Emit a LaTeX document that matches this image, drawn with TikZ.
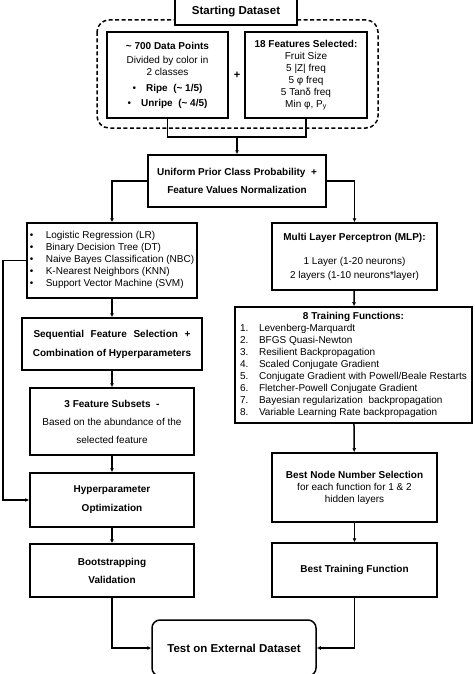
\documentclass[tikz,border=0pt]{standalone}
\usepackage{fontspec}
\setmainfont{Liberation Sans}
\usetikzlibrary{arrows.meta}
\tikzset{
  box/.style={draw, line width=1.5pt, fill=white, align=center, inner sep=2pt},
  link/.style={line width=1.5pt},
  arr/.style={line width=1.5pt, -{Latex[length=4pt,width=4pt]}},
}

\begin{document}
\begin{tikzpicture}[x=1pt,y=-1pt]
    \useasboundingbox (0,0) rectangle (474,674);
    \draw[link,dash pattern=on 4pt off 2.5pt,rounded corners=12pt] (97,20) rectangle (378,128);
    \node[box,minimum width=122pt,minimum height=27pt,font=\fontsize{11.5}{14}\selectfont\bfseries] (start) at (236,11.5) {Starting Dataset};
    \node[box,minimum width=121pt,minimum height=86pt] (pts) at (167.5,75)
      {\textbf{\textasciitilde\ 700 Data Points}\\[2pt]
       Divided by color in\\ 2 classes\\[4pt]
       \textbullet\hspace{10pt}\textbf{Ripe\ \ (\textasciitilde\ 1/5)}\\[3pt]
       \textbullet\hspace{10pt}\textbf{Unripe\ \ (\textasciitilde\ 4/5)}};
    \node[box,minimum width=122pt,minimum height=86pt] (feat) at (306,75)
      {\textbf{18 Features Selected:}\\ Fruit Size\\ 5 |Z| freq\\ 5 φ freq\\
       5 Tanδ freq\\ Min φ, P\textsubscript{y}};
    \node[font=\fontsize{11}{13}\selectfont\bfseries] (plus) at (237,75) {+};
    \coordinate (join) at (237,137);
    \node[box,minimum width=178pt,minimum height=52pt,font=\bfseries] (uni) at (237,181)
      {Uniform Prior Class Probability\ \ +\\[6pt] Feature Values Normalization};
    % left branch
    \node[box,minimum width=170pt,minimum height=75pt] (clf) at (112,260.5)
      {\begin{tabular}{@{}p{16pt}@{}l@{}}
         \textbullet & Logistic Regression (LR)\\
         \textbullet & Binary Decision Tree (DT)\\
         \textbullet & Naive Bayes Classification (NBC)\\
         \textbullet & K-Nearest Neighbors (KNN)\\
         \textbullet & Support Vector Machine (SVM)
       \end{tabular}};
    \node[box,minimum width=180pt,minimum height=52pt,font=\bfseries] (seq) at (112,344)
      {\makebox[157pt][s]{Sequential Feature Selection +}\\[7pt]
       Combination of Hyperparameters};
    \node[box,minimum width=164pt,minimum height=67pt] (sub) at (112,421.5)
      {\textbf{3\ Feature Subsets\ \ -}\\[6pt] Based on the abundance of the\\[6pt] selected feature};
    \node[box,minimum width=164pt,minimum height=54pt,font=\bfseries] (hyp) at (112,500)
      {Hyperparameter\\[7pt] Optimization};
    \node[box,minimum width=164pt,minimum height=53pt,font=\bfseries] (boot) at (112,570.5)
      {Bootstrapping\\[6pt] Validation};
    % right branch
    \node[box,minimum width=165pt,minimum height=67pt] (mlp) at (354.5,256.5)
      {\textbf{Multi Layer Perceptron (MLP):}\\[12pt]
       1 Layer (1-20 neurons)\\[2pt] 2 layers (1-10 neurons*layer)};
    \node[box,minimum width=237pt,minimum height=116pt] (train) at (353.5,365)
      {\begin{tabular}{@{}p{19pt}@{}l@{}}
         \multicolumn{2}{c}{\textbf{8 Training Functions:}}\\
         1. & Levenberg-Marquardt\\
         2. & BFGS Quasi-Newton\\
         3. & Resilient Backpropagation\\
         4. & Scaled Conjugate Gradient\\
         5. & Conjugate Gradient with Powell/Beale Restarts\\
         6. & Fletcher-Powell Conjugate Gradient\\
         7. & Bayesian regularization\ \ backpropagation\\
         8. & Variable Learning Rate backpropagation
       \end{tabular}};
    \node[box,minimum width=165pt,minimum height=69pt] (node) at (354.5,487.5)
      {\textbf{Best Node Number Selection}\\ for each function for 1 \& 2\\ hidden layers};
    \node[box,minimum width=165pt,minimum height=54pt,font=\bfseries] (best) at (354.5,570)
      {Best Training Function};
    \node[box,rounded corners=8pt,minimum width=164pt,minimum height=56pt,
          font=\fontsize{11.5}{14}\selectfont\bfseries] (test) at (234,648)
      {Test on External Dataset};
    \coordinate (back) at (3,380);
    % connectors
    \draw[link] (pts.south) |- (join) -| (feat.south);
    \draw[arr] (join) -- (uni);
    \draw[arr] (uni.west) -| (clf.north);
    \draw[arr] (uni.east) -| (mlp.north);
    \draw[arr] (clf) -- (seq);
    \draw[arr] (seq) -- (sub);
    \draw[arr] (sub) -- (hyp);
    \draw[arr] (hyp) -- (boot);
    \draw[arr] (clf.west) -| (back) |- (hyp.west);
    \draw[arr] (mlp) -- (train);
    \draw[arr] (train) -- (node);
    \draw[arr] (node) -- (best);
    \draw[arr] (boot.south) |- (test.west);
    \draw[arr] (best.south) |- (test.east);
  \end{tikzpicture}
\end{document}
